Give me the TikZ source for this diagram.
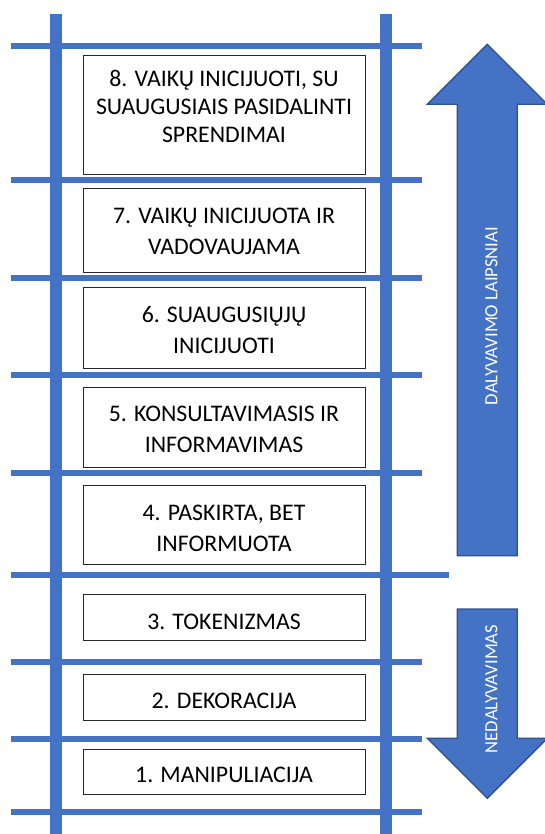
\documentclass[tikz,border=0pt]{standalone}
\usepackage{fontspec}
\setmainfont{Carlito}
\definecolor{railblue}{HTML}{4472C4}
\definecolor{arrowedge}{HTML}{2F528F}
\begin{document}
\begin{tikzpicture}[x=1pt,y=-1pt,
  lvlbox/.style={draw=black!85, line width=1pt, fill=white, minimum width=282, inner sep=0pt},
  lvltext/.style={anchor=base, align=center, inner sep=0pt, font=\fontsize{23.8}{30.8}\selectfont},
  arrtext/.style={rotate=90, text=white, inner sep=0pt, font=\fontsize{18.6}{22}\selectfont},
  bigarrow/.style={fill=railblue, draw=arrowedge, line width=1.3pt, line join=miter}]
\clip (0,0) rectangle (545,834);
% rails
\fill[railblue] (50,14) rectangle (62,834);
\fill[railblue] (380,14) rectangle (392,834);
% rungs
\foreach \yy in {45.7,180,277.7,375,473,662,738.7,812}
  \fill[railblue] (11,\yy-3) rectangle (422,\yy+3);
\fill[railblue] (11,571.5) rectangle (449,577.5);
% boxes
\node[lvlbox, minimum height=119] (b8) at (224,114.7) {};
\node[lvlbox, minimum height=83] (b7) at (224,230.5) {};
\node[lvlbox, minimum height=80.7] (b6) at (224,328.3) {};
\node[lvlbox, minimum height=80] (b5) at (224,427.3) {};
\node[lvlbox, minimum height=78.6] (b4) at (224,525) {};
\node[lvlbox, minimum height=45.6] (b3) at (224,617.5) {};
\node[lvlbox, minimum height=45.7] (b2) at (224,697.2) {};
\node[lvlbox, minimum height=45] (b1) at (224,772.2) {};
% texts (base anchor = baseline of last line)
\node[lvltext, font=\fontsize{23.8}{28}\selectfont] (t8) at (224,142.5) {8. VAIKŲ INICIJUOTI, SU\\SUAUGUSIAIS PASIDALINTI\\SPRENDIMAI};
\node[lvltext] (t7) at (224,254) {7. VAIKŲ INICIJUOTA IR\\VADOVAUJAMA};
\node[lvltext] (t6) at (224,353.3) {6. SUAUGUSIŲJŲ\\INICIJUOTI};
\node[lvltext] (t5) at (224,452.3) {5. KONSULTAVIMASIS IR\\INFORMAVIMAS};
\node[lvltext] (t4) at (224,551) {4. PASKIRTA, BET\\INFORMUOTA};
\node[lvltext] (t3) at (224,629.3) {3. TOKENIZMAS};
\node[lvltext] (t2) at (224,708.3) {2. DEKORACIJA};
\node[lvltext] (t1) at (224,782.7) {1. MANIPULIACIJA};
% arrows
\draw[bigarrow] (487.3,44.3) -- (547.3,104.3) -- (517.3,104.3) -- (517.3,555.7)
  -- (457.3,555.7) -- (457.3,104.3) -- (427.3,104.3) -- cycle;
\draw[bigarrow] (457.3,609) -- (517.3,609) -- (517.3,738.3) -- (547.3,738.3)
  -- (487.3,798.3) -- (427.3,738.3) -- (457.3,738.3) -- cycle;
\node[arrtext] (up) at (491.5,316) {DALYVAVIMO LAIPSNIAI};
\node[arrtext] (down) at (491.5,689) {NEDALYVAVIMAS};
\end{tikzpicture}
\end{document}
